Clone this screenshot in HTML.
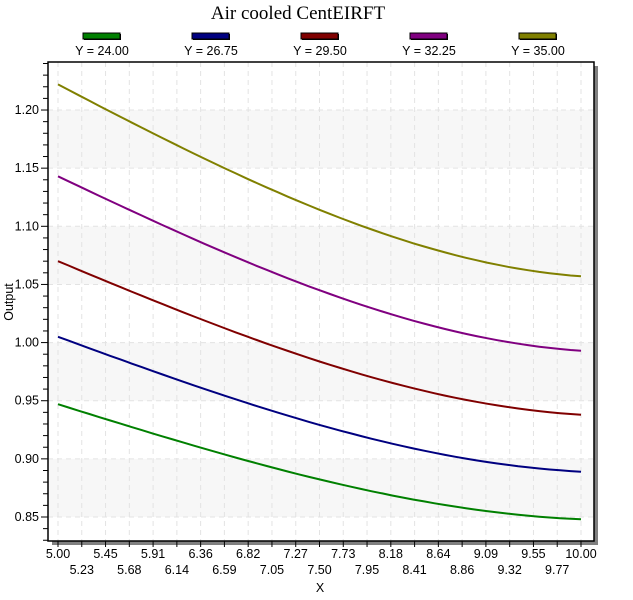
<!DOCTYPE html>
<html><head><meta charset="utf-8"><style>
body{margin:0;background:#fff;width:633px;height:600px;overflow:hidden}
svg{display:block}
text{font-family:"Liberation Sans",sans-serif;font-size:12.5px;fill:#000}
</style></head><body>
<svg id="s" width="633" height="600" xmlns="http://www.w3.org/2000/svg"></svg>
<script>
const s=document.getElementById('s');let h='';
const L=48,T=62,R=594,B=541;
const X=v=>58+(v-5)/5*523;
const Y=v=>517-(v-0.85)/0.05*58.14;
h+=`<text x="298" y="19" text-anchor="middle" style="font-family:'Liberation Serif',serif;font-size:19px">Air cooled CentEIRFT</text>`;
const cols=['#008000','#000080','#800000','#800080','#808000'];
const labs=['Y = 24.00','Y = 26.75','Y = 29.50','Y = 32.25','Y = 35.00'];
for(let i=0;i<5;i++){const x=83+i*109;
h+=`<rect x="${x+1}" y="${34}" width="37" height="6" fill="#000"/><rect x="${x}" y="33" width="37" height="6" fill="${cols[i]}" stroke="#000" stroke-width="1"/>`;
h+=`<text x="${x+19}" y="55" text-anchor="middle">${labs[i]}</text>`;}
h+=`<rect x="${L+4}" y="${T+4}" width="${R-L}" height="${B-T}" fill="#808080"/>`;
h+=`<rect x="${L}" y="${T}" width="${R-L}" height="${B-T}" fill="#fff"/>`;
[[1.15,1.20],[1.05,1.10],[0.95,1.00],[0.85,0.90]].forEach(b=>{h+=`<rect x="${L}" y="${Y(b[1])}" width="${R-L}" height="${Y(b[0])-Y(b[1])}" fill="#f7f7f7"/>`});
for(let i=0;i<=22;i++){const x=58+i*523/22;h+=`<line x1="${x}" y1="${T}" x2="${x}" y2="${B}" stroke="#e3e3e3" stroke-dasharray="5,4"/>`;
h+=`<line x1="${x}" y1="${B}" x2="${x}" y2="${B+6}" stroke="#000"/>`;
const v=(5+i*5/22).toFixed(2);h+=`<text x="${x}" y="${i%2?574:558}" text-anchor="middle">${v}</text>`;}
for(let k=0;k<8;k++){const v=0.85+k*0.05,y=Y(v);h+=`<line x1="${L}" y1="${y}" x2="${R}" y2="${y}" stroke="#e3e3e3" stroke-dasharray="5,4"/>`;
h+=`<line x1="${L-7}" y1="${y}" x2="${L}" y2="${y}" stroke="#000"/><text x="${L-9}" y="${y+4}" text-anchor="end">${v.toFixed(2)}</text>`;}
for(let k=-3;k<=39;k++){const y=Y(0.85+k*0.01);if(y>T&&y<B&&k%5)h+=`<line x1="${L-5}" y1="${y}" x2="${L}" y2="${y}" stroke="#000"/>`;}
h+=`<rect x="${L}" y="${T}" width="${R-L}" height="${B-T}" fill="none" stroke="#000" stroke-width="1.5"/>`;
const ends=[[0.947,0.848],[1.005,0.889],[1.070,0.938],[1.143,0.993],[1.222,1.057]];
ends.forEach((e,i)=>{let p='';for(let j=0;j<=50;j++){const t=j/50,g=1.423*t-0.043*t*t-0.38*t*t*t,v=e[0]+(e[1]-e[0])*g;p+=(j?'L':'M')+X(5+5*t).toFixed(1)+','+Y(v).toFixed(1);}
h+=`<path d="${p}" fill="none" stroke="${cols[i]}" stroke-width="2"/>`;});
h+=`<text x="320" y="592" text-anchor="middle">X</text>`;
h+=`<text transform="translate(13,302) rotate(-90)" text-anchor="middle">Output</text>`;
s.innerHTML=h;
</script>
</body></html>
